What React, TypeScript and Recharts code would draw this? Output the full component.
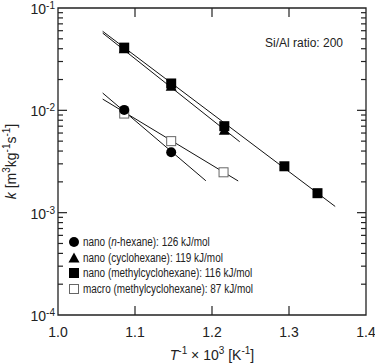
import React from 'react';
import { ComposedChart, Scatter, XAxis, YAxis, ReferenceArea } from 'recharts';

// measured points
const circleX = [1.086, 1.147];
const circleK = [0.0101, 0.0039];
const triangleX = [1.086, 1.147, 1.216];
const triangleK = [0.04, 0.0172, 0.0064];
const squareX = [1.086, 1.147, 1.216, 1.294, 1.337];
const squareK = [0.041, 0.0183, 0.007, 0.00284, 0.00155];
const macroX = [1.086, 1.147, 1.215];
const macroK = [0.0093, 0.005, 0.00248];

// fitted lines (start / end)
const circleFitX = [1.058, 1.192];
const circleFitK = [0.01476, 0.00205];
const triangleFitX = [1.058, 1.236];
const triangleFitK = [0.0569, 0.00493];
const squareFitX = [1.058, 1.36];
const squareFitK = [0.0592, 0.00115];
const macroFitX = [1.058, 1.234];
const macroFitK = [0.01288, 0.00204];

const xTicks = [1.0, 1.1, 1.2, 1.3, 1.4];
const innerXTicks = [1.1, 1.2, 1.3];
const decades = [1e-4, 1e-3, 1e-2, 1e-1];
const exponents = ['-4', '-3', '-2', '-1'];
const minorMult = [2, 3, 4, 5, 6, 7, 8, 9];

const legendItems = [
  { shape: 'circle', pre: 'nano (', it: 'n', post: '-hexane): 126 kJ/mol' },
  { shape: 'triangle', pre: 'nano (cyclohexane): 119 kJ/mol', it: '', post: '' },
  { shape: 'square', pre: 'nano (methylcyclohexane): 116 kJ/mol', it: '', post: '' },
  { shape: 'open', pre: 'macro (methylcyclohexane): 87 kJ/mol', it: '', post: '' },
];

const FONT = "'Liberation Sans', Arial, sans-serif";
const AXIS = '#222';
const X_MIN = 1.0;
const X_MAX = 1.4;
const K_MIN = 1e-4;
const K_MAX = 1e-1;

// tick lengths in data units (inward ticks)
const MAJOR_DX = 0.0117;
const MINOR_DX = 0.0065;
const X_TICK_FACTOR = 1.225;

const zip = (xs: number[], ys: number[]) => xs.map((x, i) => ({ x, y: ys[i] }));

const minorTicks: number[] = [];
decades.slice(0, -1).forEach((d) => minorMult.forEach((m) => minorTicks.push(d * m)));
const innerDecades = decades.slice(1, -1);

// each tick is a two-point segment, drawn like the fitted lines
type Pt = { x: number; y: number };
const tickSegs: Pt[][] = [
  ...innerXTicks.map((x) => [{ x, y: K_MIN }, { x, y: K_MIN * X_TICK_FACTOR }]),
  ...innerXTicks.map((x) => [{ x, y: K_MAX / X_TICK_FACTOR }, { x, y: K_MAX }]),
  ...innerDecades.map((y) => [{ x: X_MIN, y }, { x: X_MIN + MAJOR_DX, y }]),
  ...minorTicks.map((y) => [{ x: X_MIN, y }, { x: X_MIN + MINOR_DX, y }]),
  ...innerDecades.map((y) => [{ x: X_MAX - MAJOR_DX, y }, { x: X_MAX, y }]),
  ...minorTicks.map((y) => [{ x: X_MAX - MINOR_DX, y }, { x: X_MAX, y }]),
];

const decadeIndex = (v: number) => decades.findIndex((d) => Math.abs(d - v) / d < 1e-6);

const Marker = ({ kind, cx, cy }: { kind: string; cx: number; cy: number }) => {
  if (kind === 'circle') return <circle cx={cx} cy={cy} r={5} fill="#000" />;
  if (kind === 'triangle')
    return <polygon points={`${cx},${cy - 5.5} ${cx + 5.5},${cy + 4.5} ${cx - 5.5},${cy + 4.5}`} fill="#000" />;
  if (kind === 'square') return <rect x={cx - 5} y={cy - 5} width={10} height={10} fill="#000" />;
  return <rect x={cx - 4.5} y={cy - 4.5} width={9} height={9} fill="#fff" stroke="#666" strokeWidth={1} />;
};

const shapeOf = (kind: string) => (p: any) => <Marker kind={kind} cx={p.cx} cy={p.cy} />;
const NoShape = () => <g />;

const BottomLabel = ({ x, y, payload }: any) => (
  <text x={x} y={y + 22} textAnchor="middle" fontSize={14} fontFamily={FONT} fill="#222">
    {payload.value.toFixed(1)}
  </text>
);

const LeftLabel = ({ x, y, payload }: any) => {
  const i = decadeIndex(payload.value);
  return (
    <text x={x - 3} y={y + 6} textAnchor="end" fontSize={14} fontFamily={FONT} fill="#222">
      10
      <tspan dy={-5} fontSize={10}>{exponents[i]}</tspan>
    </text>
  );
};

const XTitle = ({ viewBox }: any) => {
  const cx = viewBox.x + viewBox.width / 2;
  const cy = viewBox.y + 45;
  return (
    <text x={cx} y={cy} textAnchor="middle" fontSize={14} fontFamily={FONT} fill="#222">
      <tspan fontStyle="italic">T</tspan>
      <tspan dy={-6} fontSize={10}>-1</tspan>
      <tspan dy={6}> × 10</tspan>
      <tspan dy={-6} fontSize={10}>3</tspan>
      <tspan dy={6}> [K</tspan>
      <tspan dy={-6} fontSize={10}>-1</tspan>
      <tspan dy={6}>]</tspan>
    </text>
  );
};

const YTitle = ({ viewBox }: any) => {
  const cx = 16;
  const cy = viewBox.y + viewBox.height / 2;
  return (
    <text
      x={cx}
      y={cy}
      transform={`rotate(-90 ${cx} ${cy})`}
      textAnchor="middle"
      fontSize={14}
      fontFamily={FONT}
      fill="#222"
    >
      <tspan fontStyle="italic">k</tspan>
      <tspan> [m</tspan>
      <tspan dy={-6} fontSize={10}>3</tspan>
      <tspan dy={6}>kg</tspan>
      <tspan dy={-6} fontSize={10}>-1</tspan>
      <tspan dy={6}>s</tspan>
      <tspan dy={-6} fontSize={10}>-1</tspan>
      <tspan dy={6}>]</tspan>
    </text>
  );
};

const lineStyle = { stroke: '#111', strokeWidth: 1 };
const tickStyle = { stroke: AXIS, strokeWidth: 1.2 };

export default function App() {
  return (
    <div style={{ position: 'absolute', left: 0, top: 0, width: 375, height: 364 }}>
      <ComposedChart width={375} height={364} margin={{ top: 8, right: 9, bottom: 0, left: 0 }}>
        <XAxis
          xAxisId="b"
          dataKey="x"
          type="number"
          domain={[X_MIN, X_MAX]}
          ticks={xTicks}
          height={49}
          tickSize={0}
          tickMargin={0}
          tickLine={false}
          axisLine={false}
          tick={<BottomLabel />}
          interval={0}
          allowDataOverflow
          label={<XTitle />}
        />
        <YAxis
          yAxisId="l"
          dataKey="y"
          type="number"
          scale="log"
          domain={[K_MIN, K_MAX]}
          ticks={decades}
          width={58}
          tickSize={0}
          tickMargin={0}
          tickLine={false}
          axisLine={false}
          tick={<LeftLabel />}
          interval={0}
          allowDataOverflow
          label={<YTitle />}
        />

        {/* plot frame */}
        <ReferenceArea
          xAxisId="b"
          yAxisId="l"
          x1={X_MIN}
          x2={X_MAX}
          y1={K_MIN}
          y2={K_MAX}
          fill="none"
          fillOpacity={0}
          stroke={AXIS}
          strokeWidth={1.3}
          strokeOpacity={1}
          ifOverflow="visible"
        />

        {/* inward tick marks */}
        {tickSegs.map((seg, i) => (
          <Scatter
            key={`tick-${i}`}
            xAxisId="b"
            yAxisId="l"
            data={seg}
            line={tickStyle}
            shape={NoShape}
            legendType="none"
            isAnimationActive={false}
          />
        ))}

        {/* fitted lines */}
        <Scatter xAxisId="b" yAxisId="l" data={zip(squareFitX, squareFitK)} line={lineStyle} shape={NoShape} legendType="none" isAnimationActive={false} />
        <Scatter xAxisId="b" yAxisId="l" data={zip(triangleFitX, triangleFitK)} line={lineStyle} shape={NoShape} legendType="none" isAnimationActive={false} />
        <Scatter xAxisId="b" yAxisId="l" data={zip(circleFitX, circleFitK)} line={lineStyle} shape={NoShape} legendType="none" isAnimationActive={false} />
        <Scatter xAxisId="b" yAxisId="l" data={zip(macroFitX, macroFitK)} line={lineStyle} shape={NoShape} legendType="none" isAnimationActive={false} />

        {/* data points */}
        <Scatter xAxisId="b" yAxisId="l" data={zip(macroX, macroK)} shape={shapeOf('open')} isAnimationActive={false} />
        <Scatter xAxisId="b" yAxisId="l" data={zip(triangleX, triangleK)} shape={shapeOf('triangle')} isAnimationActive={false} />
        <Scatter xAxisId="b" yAxisId="l" data={zip(squareX, squareK)} shape={shapeOf('square')} isAnimationActive={false} />
        <Scatter xAxisId="b" yAxisId="l" data={zip(circleX, circleK)} shape={shapeOf('circle')} isAnimationActive={false} />
      </ComposedChart>

      {/* legend */}
      <div style={{ position: 'absolute', left: 67, top: 234, fontFamily: FONT, fontSize: 12, color: '#222' }}>
        {legendItems.map((item) => (
          <div key={item.shape} style={{ display: 'flex', alignItems: 'center', height: 15.8, whiteSpace: 'nowrap' }}>
            <svg width={14} height={14} style={{ marginRight: 2, flex: 'none' }}>
              <Marker kind={item.shape} cx={7} cy={7} />
            </svg>
            <span style={{ display: 'inline-block', transform: 'scaleX(0.83)', transformOrigin: 'left center' }}>
              {item.pre}
              {item.it && <i>{item.it}</i>}
              {item.post}
            </span>
          </div>
        ))}
      </div>

      <div
        style={{
          position: 'absolute',
          left: 265,
          top: 36,
          fontFamily: FONT,
          fontSize: 12,
          color: '#222',
          whiteSpace: 'nowrap',
        }}
      >
        Si/Al ratio: 200
      </div>
    </div>
  );
}
